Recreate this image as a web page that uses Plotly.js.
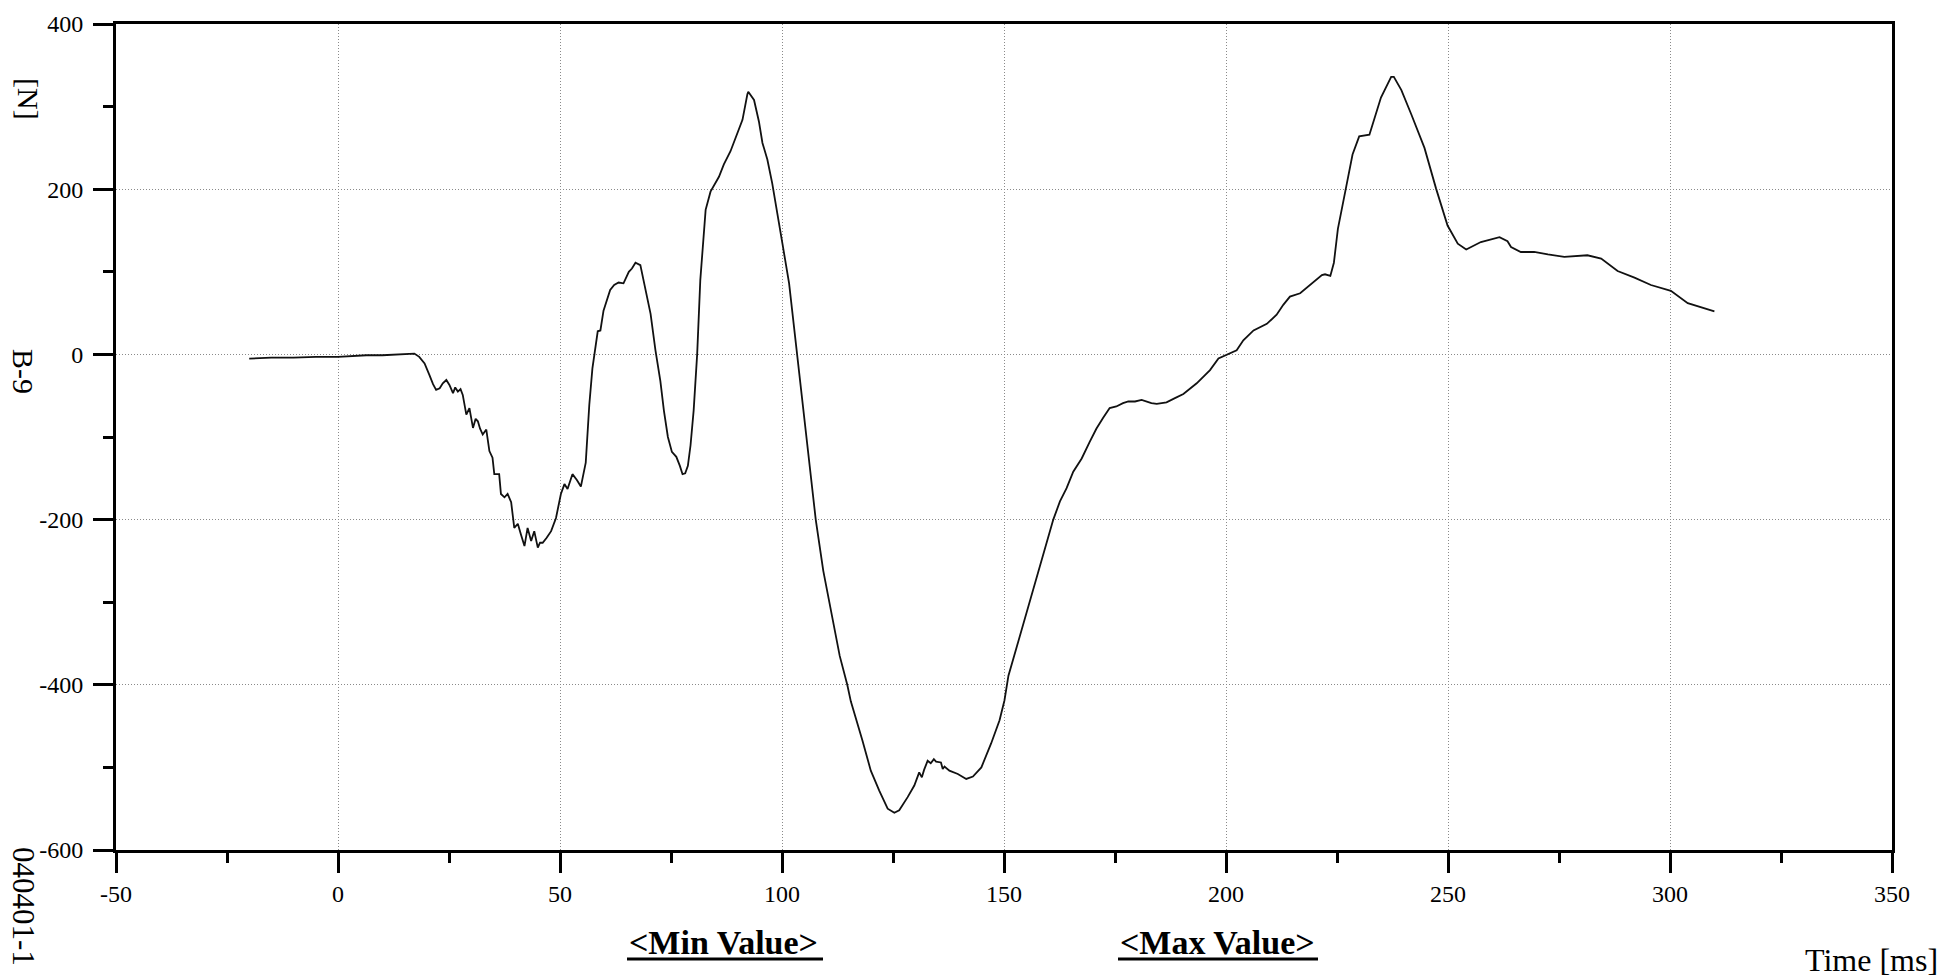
<!DOCTYPE html>
<html>
<head>
<meta charset="utf-8">
<script src="https://cdn.plot.ly/plotly-3.0.1.min.js"></script>
<style>html,body{margin:0;padding:0;background:#fff;}#chart{width:1944px;height:978px;}</style>
</head>
<body>
<div id="chart"></div>
<script>
// Time [ms]
const timeMs = [-20,-15,-10,-5,0,3,6.4,10,13,15,17.2,18.3,19.5,20.6,21.4,22.1,22.9,23.6,24.4,25.1,25.9,26.4,27,27.6,28.1,28.9,29.6,30.4,31,31.5,32,32.6,33.4,34.1,34.8,35.2,36.3,36.7,37.5,38.2,39,39.7,40.5,41.2,42,42.7,43.5,44.2,45,45.5,46.1,47,48,49.1,50.2,51,51.7,52.8,53.8,54.7,55.8,56.6,57.3,58.5,59.1,59.8,61.3,62.2,63.2,64.3,65.5,66.2,67,68.1,69.2,70.4,71.5,72.6,73.4,74.3,75.2,76.2,77,77.6,78.2,78.8,79.4,80.1,80.9,81.6,82.8,83.9,85.8,86.9,88.4,89.9,91.1,92.2,92.4,93.7,94.8,95.6,96.7,97.8,99,100.1,101.6,103.5,105.1,106.3,107.6,109.3,111.2,113,114.7,115.5,118.1,120,121.9,123.8,125.3,126.4,128.3,129.8,130.9,131.5,132,132.8,133.5,134.2,134.7,135.8,136.2,136.6,137.7,139.6,141.5,143,144.9,147.1,149,150.1,151,153.6,155.9,158.9,161.1,162.6,164.1,165.6,167.5,169.3,170.8,172.3,173.8,175.3,176.8,178,179.5,181,182.1,183.2,184.4,186.6,188.5,190.4,193.4,196.4,198.3,200.2,202.4,203.9,206.2,209.2,211.4,212.9,214.4,216.7,218.9,221.6,222.3,223.5,224.3,225.2,227,228.5,230,232.3,234.9,237.2,237.8,239.5,241.7,244.7,247.3,249.9,252.2,254.1,257.4,261.6,263.4,264.2,266.4,269.4,272.5,276.2,281.4,284.5,288.2,292,295.7,300.2,304,307,310];
// Force B-9 [N]
const forceN = [-5,-4,-4,-3,-3,-2,-1,-1,0,1,1,-3,-11,-25,-36,-43,-41,-35,-31,-37,-47,-40,-45,-42,-49,-73,-65,-89,-78,-81,-90,-97,-91,-117,-125,-145,-145,-169,-173,-169,-179,-210,-205,-218,-232,-210,-226,-214,-234,-228,-228,-222,-214,-198,-169,-157,-163,-145,-152,-160,-131,-61,-17,28,29,53,78,84,87,86,100,104,111,108,78,49,5,-32,-68,-100,-118,-124,-135,-145,-144,-135,-110,-68,1,90,175,197,215,230,246,266,284,315,318,308,282,256,236,207,171,134,86,-5,-75,-134,-200,-262,-317,-365,-400,-420,-467,-504,-528,-550,-555,-552,-536,-522,-506,-512,-503,-492,-495,-490,-493,-494,-502,-499,-504,-508,-514,-511,-500,-471,-443,-419,-389,-341,-298,-242,-200,-178,-162,-142,-126,-106,-90,-77,-65,-63,-59,-57,-57,-55,-57,-59,-60,-58,-53,-48,-35,-19,-5,0,5,17,29,37,48,60,70,74,84,96,97,95,111,152,201,242,264,266,311,336,336,320,291,250,201,156,134,127,136,142,137,130,124,124,121,118,120,116,101,93,84,77,62,57,52];

const xTickVals = [-50,0,50,100,150,200,250,300,350];
const yTickVals = [-600,-400,-200,0,200,400];

// plot area in pixels
const L = 116, R = 1892, T = 24, B = 850;
const px = x => (x - L) / (R - L);
const py = y => (B - y) / (B - T);

const serif = 'Liberation Serif, Times New Roman, serif';

const trace = {
  x: timeMs, y: forceN, type: 'scatter', mode: 'lines',
  line: {color: '#111', width: 1.8}, hoverinfo: 'x+y'
};

const axisCommon = {
  showline: true, linecolor: '#000', linewidth: 3, mirror: true,
  ticks: 'outside', ticklen: 20, tickwidth: 3, tickcolor: '#000',
  showgrid: true, gridcolor: '#8a8a8a', gridwidth: 1, griddash: '1px,2px',
  zeroline: false,
  tickfont: {family: serif, size: 24, color: '#000'}
};

const layout = {
  width: 1944, height: 978,
  margin: {l: L, r: 1944 - R, t: T, b: 978 - B, pad: 0},
  paper_bgcolor: '#fff', plot_bgcolor: '#fff',
  showlegend: false,
  xaxis: Object.assign({}, axisCommon, {
    range: [-50, 350], tickmode: 'array', tickvals: xTickVals,
    ticktext: xTickVals.map(String),
    minor: {dtick: 25, tick0: 0, ticks: 'outside', ticklen: 10, tickwidth: 3, tickcolor: '#000', showgrid: false}
  }),
  yaxis: Object.assign({}, axisCommon, {
    range: [-600, 400], tickmode: 'array', tickvals: yTickVals,
    ticktext: yTickVals.map(String), ticklabelstandoff: 5,
    minor: {dtick: 100, tick0: 0, ticks: 'outside', ticklen: 10, tickwidth: 3, tickcolor: '#000', showgrid: false}
  }),
  annotations: [
    {text: '[N]', xref: 'paper', yref: 'paper', x: px(28), y: py(99), textangle: 90,
     showarrow: false, xanchor: 'center', yanchor: 'middle', font: {family: serif, size: 30, color: '#000'}},
    {text: 'B-9', xref: 'paper', yref: 'paper', x: px(24), y: py(371), textangle: 90,
     showarrow: false, xanchor: 'center', yanchor: 'middle', font: {family: serif, size: 30, color: '#000'}},
    {text: '040401-1', xref: 'paper', yref: 'paper', x: px(24), y: py(906), textangle: 90,
     showarrow: false, xanchor: 'center', yanchor: 'middle', font: {family: serif, size: 31, color: '#000'}},
    {text: 'Time [ms]', xref: 'paper', yref: 'paper', x: px(1940), y: py(960),
     showarrow: false, xanchor: 'right', yanchor: 'middle', font: {family: serif, size: 32, color: '#000'}},
    {text: '<b>&lt;Min Value&gt;</b>', xref: 'paper', yref: 'paper', x: px(723), y: py(942),
     showarrow: false, xanchor: 'center', yanchor: 'middle', font: {family: serif, size: 34, color: '#000'}},
    {text: '<b>&lt;Max Value&gt;</b>', xref: 'paper', yref: 'paper', x: px(1217), y: py(942),
     showarrow: false, xanchor: 'center', yanchor: 'middle', font: {family: serif, size: 34, color: '#000'}}
  ],
  shapes: [
    {type: 'line', xref: 'paper', yref: 'paper', x0: px(627), x1: px(823), y0: py(959), y1: py(959), line: {color: '#000', width: 3}},
    {type: 'line', xref: 'paper', yref: 'paper', x0: px(1118), x1: px(1318), y0: py(959), y1: py(959), line: {color: '#000', width: 3}}
  ]
};

Plotly.newPlot('chart', [trace], layout, {displayModeBar: false, staticPlot: true});
</script>
</body>
</html>
